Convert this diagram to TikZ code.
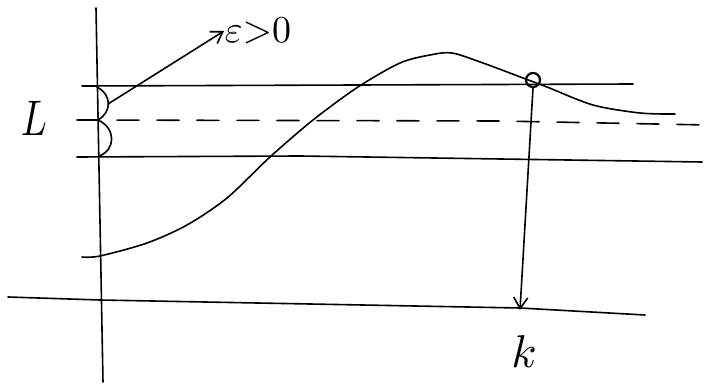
\documentclass[tikz,border=0pt]{standalone}
\usepackage{graphicx}
\usetikzlibrary{arrows.meta}
\begin{document}
\begin{tikzpicture}[x=1pt,y=-1pt,line width=1.6pt,
  pen/.style={line cap=round,line join=round},
  lbl/.style={inner sep=0pt},
  tip/.style={-{Straight Barb[length=11pt,width=14pt]}}]
\useasboundingbox (0,0) rectangle (707,385);
% axes
\coordinate (axT) at (96,8);
\coordinate (axB) at (103,382);
\draw[pen] (axT) -- (axB);
\coordinate (bL) at (8,297);
\coordinate (bR) at (645,315);
\draw[pen] (bL) -- (100,300) -- (520,308) -- (bR);
% horizontal band lines
\coordinate (uL) at (82,86);
\coordinate (uR) at (633,84);
\draw[pen] (uL) -- (uR);
\coordinate (lL) at (77,157);
\coordinate (lR) at (702,162);
\draw[pen] (lL) -- (300,156) -- (lR);
\coordinate (dL) at (77,120);
\coordinate (dR) at (707,125);
\draw[pen,dash pattern=on 22pt off 18pt] (dL) -- (500,121) -- (dR);
% brackets
\draw[pen] (97,87) .. controls (112,95) and (112,112) .. (98,120);
\draw[pen] (98,120) .. controls (116,128) and (116,150) .. (99,156);
\coordinate (brk) at (108,104);
\node[lbl,anchor=west] (eps) at (224,31) {\scalebox{3.8}{$\varepsilon{>}0$}};
\draw[pen,tip] (brk) -- (eps.west);
\node[lbl] (L) at (34,118) {\scalebox{3.8}[5]{$L$}};
% curve
\draw[pen] plot[smooth,tension=0.5] coordinates {(82,257) (100,256) (147,243) (187,225) (227,198) (270,157) (313,120) (358,87) (400,63) (430,55) (452,53) (483,63) (523,78) (547,87) (593,105) (640,113) (675,114)};
% point
\node[draw,circle,minimum size=14pt,inner sep=0pt,line width=2.2pt] (p) at (533,80) {};
\coordinate (kq) at (520,310);
\draw[pen,tip] (p.south) -- (kq);
\node[lbl] (k) at (524,352) {\scalebox{4.6}{$k$}};
\end{tikzpicture}
\end{document}
